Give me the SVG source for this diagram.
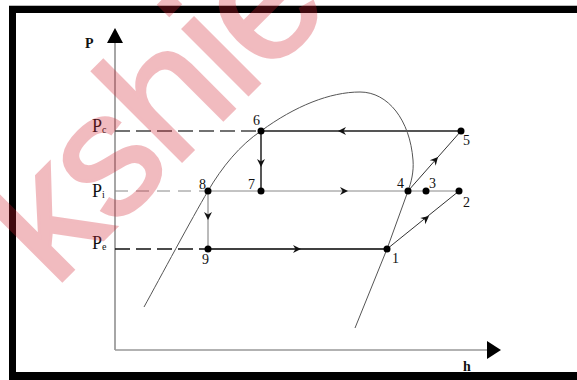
<svg xmlns="http://www.w3.org/2000/svg" width="577" height="380" viewBox="0 0 577 380">
<style>
.num{font-family:"Liberation Serif","Times New Roman",serif;font-size:14px;fill:#111}
.plab{font-family:"Liberation Serif","Times New Roman",serif;font-size:18px;fill:#111}
.sub{font-size:10px}
.ax{font-family:"Liberation Serif","Times New Roman",serif;font-size:14px;font-weight:bold;fill:#111}
.dot{fill:#000}
.arr{fill:#111}
</style>
<defs>
<path id="chev" d="M0,0 L-8,-4 L-5.5,0 L-8,4 Z"/>
</defs>
<rect width="577" height="380" fill="#fff"/>
<g id="frame">
<line x1="9" y1="5.5" x2="577" y2="5.5" stroke="#bbb" stroke-width="1"/>
<rect x="9" y="6" width="568" height="7" fill="#000"/>
<rect x="9" y="6" width="7" height="374" fill="#000"/>
<rect x="9" y="372" width="568" height="8" fill="#000"/>
</g>
<g id="axes">
<line x1="115" y1="42" x2="115" y2="350" stroke="#888" stroke-width="1.5"/>
<line x1="115" y1="350" x2="488" y2="350" stroke="#999" stroke-width="1.5"/>
<path d="M107,43 L115,28 L123,43 Z" fill="#000"/>
<path d="M487,341 L501,350 L487,359 Z" fill="#000"/>
<text class="ax" x="85" y="48">P</text>
<text class="ax" x="463" y="371">h</text>
<text class="plab" x="92" y="132">P<tspan class="sub" dy="1">c</tspan></text>
<text class="plab" x="92" y="197">P<tspan class="sub" dy="1">i</tspan></text>
<text class="plab" x="92" y="249">P<tspan class="sub" dy="1">e</tspan></text>
</g>
<g id="dome">
<path d="M144,307 C160,278 192,218 208,191 C222,167 240,145 261,131 C295,106 330,92 360,92 C388,92 410,120 413,160 C414,172 411,183 408,191 L387,249 L355,328" fill="none" stroke="#555" stroke-width="1"/>
</g>
<g id="connectors">
<line x1="115" y1="131" x2="261" y2="131" stroke="#444" stroke-width="1.6" stroke-dasharray="15 6"/>
<line x1="115" y1="191" x2="208" y2="191" stroke="#888" stroke-width="1" stroke-dasharray="13 8"/>
<line x1="115" y1="249" x2="208" y2="249" stroke="#111" stroke-width="1.5" stroke-dasharray="15 6"/>
<line x1="261" y1="131" x2="461" y2="131" stroke="#555" stroke-width="2"/>
<line x1="208" y1="191" x2="459" y2="191" stroke="#888" stroke-width="1"/>
<line x1="208" y1="249" x2="387" y2="249" stroke="#000" stroke-width="1.4"/>
<line x1="261" y1="131" x2="261" y2="191" stroke="#111" stroke-width="1.4"/>
<line x1="208" y1="191" x2="208" y2="249" stroke="#777" stroke-width="1"/>
<line x1="387" y1="249" x2="459" y2="191" stroke="#333" stroke-width="1"/>
<line x1="408" y1="191" x2="461" y2="131" stroke="#333" stroke-width="1"/>
<use href="#chev" class="arr" transform="translate(338,131) rotate(180)"/>
<use href="#chev" class="arr" transform="translate(348,191)"/>
<use href="#chev" class="arr" transform="translate(301,249)"/>
<use href="#chev" class="arr" transform="translate(261,167) rotate(90)"/>
<use href="#chev" class="arr" transform="translate(208,220) rotate(90)"/>
<use href="#chev" class="arr" transform="translate(429,216) rotate(-38.9)"/>
<use href="#chev" class="arr" transform="translate(438,157) rotate(-48.5)"/>
</g>
<g id="n6"><circle class="dot" cx="261" cy="131" r="3.5"/><text class="num" x="253" y="125">6</text></g>
<g id="n5"><circle class="dot" cx="461" cy="131" r="3.5"/><text class="num" x="463" y="145">5</text></g>
<g id="n8"><circle class="dot" cx="208" cy="191" r="3.5"/><text class="num" x="199" y="189">8</text></g>
<g id="n7"><circle class="dot" cx="261" cy="191" r="3.5"/><text class="num" x="248" y="189">7</text></g>
<g id="n4"><circle class="dot" cx="408" cy="191" r="3.5"/><text class="num" x="397" y="188">4</text></g>
<g id="n3"><circle class="dot" cx="426" cy="191" r="3.5"/><text class="num" x="429" y="188">3</text></g>
<g id="n2"><circle class="dot" cx="459" cy="191" r="3.5"/><text class="num" x="463" y="207">2</text></g>
<g id="n9"><circle class="dot" cx="208" cy="249" r="3.5"/><text class="num" x="202" y="264">9</text></g>
<g id="n1"><circle class="dot" cx="387" cy="249" r="3.5"/><text class="num" x="392" y="263">1</text></g>
<g id="watermark" opacity="0.3">
<text x="0" y="0" transform="translate(54,289) rotate(-45)" font-family="Liberation Sans, Arial, sans-serif" font-size="175" letter-spacing="-3" fill="#d42030" stroke="#d42030" stroke-width="3">kshie</text>
</g>
</svg>
